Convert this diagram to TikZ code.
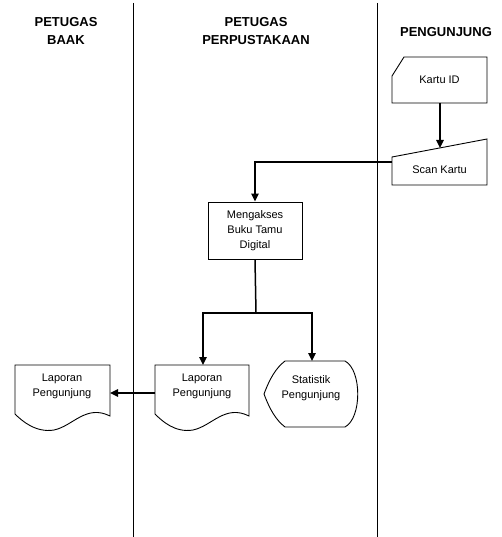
\documentclass[tikz,border=0pt]{standalone}
\usepackage{fontspec}
\setmainfont{Liberation Sans}
\usetikzlibrary{arrows.meta}
\begin{document}
\begin{tikzpicture}[x=1pt,y=-1pt,
  lane/.style={line width=1pt},
  shp/.style={line width=0.9pt},
  txt/.style={font=\fontsize{11}{15}\selectfont,align=center,inner sep=0pt},
  hdr/.style={font=\fontsize{13}{18}\selectfont\bfseries,align=center,inner sep=0pt},
  conn/.style={line width=1.5pt},
  arr/.style={conn,-{Triangle[length=8pt,width=7.5pt]}},
  procbox/.style={shp,draw,minimum width=94pt,minimum height=57pt,inner sep=0pt,txt}
]
\useasboundingbox (0,0) rectangle (502,537);
% lanes
\draw[lane] (133,3) -- (133,537);
\draw[lane] (377,3) -- (377,537);
% headers
\node[hdr] (h1) at (66,31) {PETUGAS\\BAAK};
\node[hdr] (h2) at (256,31) {PETUGAS\\PERPUSTAKAAN};
\node[hdr] (h3) at (446,32) {PENGUNJUNG};
% Kartu ID (card)
\draw[shp] (392,103) -- (487,103) -- (487,57) -- (404,57) -- (392,76) -- cycle;
\node[txt] (card) at (439.5,80) {Kartu ID};
% Scan Kartu (manual input)
\draw[shp] (392,185) -- (487,185) -- (487,139) -- (392,157) -- cycle;
\node[txt] (scan) at (439.5,170) {Scan Kartu};
% Process
\node[procbox] (proc) at (255,230.5) {Mengakses\\Buku Tamu\\Digital};
% Laporan (middle document)
\draw[shp] (155,414) -- (155,365) -- (249,365) -- (249,416)
  .. controls (225,404) and (212,426) .. (193,430)
  .. controls (175,433) and (162,421) .. (155,414);
\node[txt] (lap) at (202,386) {Laporan\\Pengunjung};
% Laporan (left document)
\draw[shp] (15,414) -- (15,365) -- (110,365) -- (110,416)
  .. controls (86,404) and (73,426) .. (54,430)
  .. controls (36,433) and (22,421) .. (15,414);
\node[txt] (lap2) at (62,386) {Laporan\\Pengunjung};
% Statistik (display)
\draw[shp] (264,394) .. controls (270,378) and (276,368) .. (285,361) -- (345,361)
  .. controls (362,370) and (362,418) .. (345,427) -- (285,427)
  .. controls (276,420) and (270,410) .. (264,394) -- cycle;
\node[txt] (stat) at (311,388) {Statistik\\Pengunjung};
% connector points
\coordinate (cardB) at (440,103);
\coordinate (scanT) at (440,148);
\coordinate (scanL) at (392,162);
\coordinate (split) at (256,313);
\coordinate (lapT) at (203,365);
\coordinate (statT) at (312,361);
\coordinate (lapL) at (155,393);
\coordinate (lap2R) at (110,393);
% connectors
\draw[arr] (cardB) -- (scanT);
\draw[arr] (scanL) -| (proc.north);
\draw[conn] (proc.south) -- (split);
\draw[arr] (split) -| (lapT);
\draw[arr] (split) -| (statT);
\draw[arr] (lapL) -- (lap2R);
\end{tikzpicture}
\end{document}
